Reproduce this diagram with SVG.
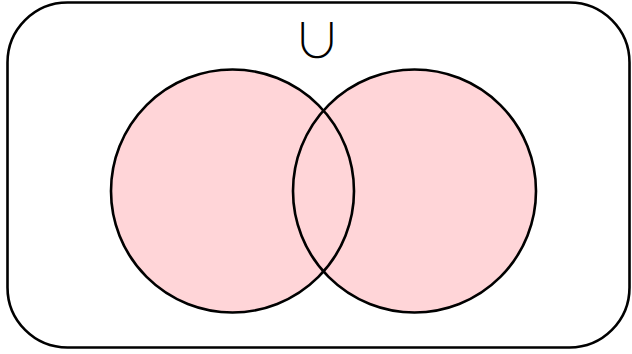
<svg xmlns="http://www.w3.org/2000/svg" width="632" height="354" viewBox="0 0 632 354">
<style>
.set{fill:#ffd5d8;stroke:none}
.edge{fill:none;stroke:#000;stroke-width:2.6}
.lbl{font-family:"Noto Sans CJK SC","DejaVu Sans",sans-serif;font-weight:300;font-size:48px;fill:#000;text-anchor:middle}
</style>
<rect width="632" height="354" fill="#fff"/>
<g id="universe">
<rect x="7.5" y="2.5" width="622" height="345" rx="60" ry="60" class="edge"/>
<text x="317" y="58" class="lbl">∪</text>
</g>
<g id="setA"><circle cx="232.5" cy="191" r="121.5" class="set"/></g>
<g id="setB"><circle cx="414.5" cy="191" r="121.5" class="set"/></g>
<g id="outlines">
<circle cx="232.5" cy="191" r="121.5" class="edge"/>
<circle cx="414.5" cy="191" r="121.5" class="edge"/>
</g>
</svg>
